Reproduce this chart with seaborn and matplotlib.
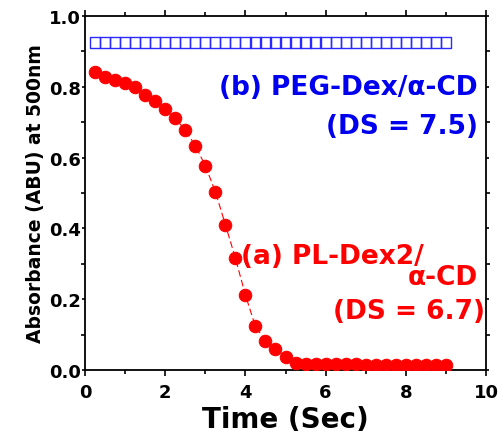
import numpy as np
import pandas as pd
import matplotlib
matplotlib.use("Agg")
import matplotlib.pyplot as plt
import seaborn as sns
from matplotlib.ticker import MultipleLocator

time_sec = [0.25, 0.5, 0.75, 1.0, 1.25, 1.5, 1.75, 2.0, 2.25, 2.5,
            2.75, 3.0, 3.25, 3.5, 3.75, 4.0, 4.25, 4.5, 4.75, 5.0,
            5.25, 5.5, 5.75, 6.0, 6.25, 6.5, 6.75, 7.0, 7.25, 7.5,
            7.75, 8.0, 8.25, 8.5, 8.75, 9.0]
abs_a = [0.841, 0.829, 0.819, 0.810, 0.799, 0.778, 0.761, 0.737, 0.711, 0.678,
         0.634, 0.577, 0.504, 0.411, 0.316, 0.212, 0.123, 0.083, 0.059, 0.036,
         0.020, 0.018, 0.017, 0.017, 0.016, 0.016, 0.016, 0.015, 0.015, 0.015,
         0.014, 0.014, 0.014, 0.013, 0.013, 0.013]
abs_b = [0.925] * 36

xticks = [0, 2, 4, 6, 8, 10]
yticks = [0.0, 0.2, 0.4, 0.6, 0.8, 1.0]

sns.set_style("ticks")
plt.rcParams['font.family'] = ['DejaVu Sans']
plt.rcParams['font.weight'] = 'bold'
for k in ['text.color', 'axes.labelcolor', 'xtick.color', 'ytick.color',
          'axes.edgecolor']:
    plt.rcParams[k] = 'black'

df_a = pd.DataFrame({"t": time_sec, "A": abs_a})
df_b = pd.DataFrame({"t": time_sec, "A": abs_b})

fig = plt.figure(figsize=(5.04, 4.39), dpi=100)
ax = fig.add_axes([85/504, 1 - 371/439, (486-85)/504, (371-17)/439])

sns.lineplot(data=df_a, x="t", y="A", ax=ax, color="red", linestyle=(0, (6, 3)),
             linewidth=0.8, marker="o", markersize=9, markeredgecolor="red",
             markerfacecolor="red", zorder=3)
sns.scatterplot(data=df_b, x="t", y="A", ax=ax, marker="s", s=54,
                facecolor="none", edgecolor="#2a2aff", linewidth=1.0, zorder=3)

ax.set_xlim(0, 10)
ax.set_ylim(0, 1.0)
ax.set_xticks(xticks)
ax.set_yticks(yticks)
ax.set_xticklabels([str(v) for v in xticks], fontsize=13, fontweight='bold')
ax.set_yticklabels([f"{v:.1f}" for v in yticks], fontsize=13, fontweight='bold')
ax.xaxis.set_minor_locator(MultipleLocator(1))
ax.yaxis.set_minor_locator(MultipleLocator(0.1))
ax.tick_params(which='both', direction='out', width=1.2, color='black')
ax.tick_params(axis='x', which='major', length=4, pad=5)
ax.tick_params(axis='y', which='major', length=2, pad=1)
ax.tick_params(which='minor', length=3)
ax.tick_params(which='both', top=True, right=True, labeltop=False, labelright=False)
for s in ax.spines.values():
    s.set_linewidth(1.3)
    s.set_color('black')

ax.set_xlabel("Time (Sec)", fontsize=20, fontweight='bold', labelpad=3, color='black')
ax.set_ylabel("Absorbance (ABU) at 500nm", fontsize=13.5, fontweight='bold',
              labelpad=3, color='black')

blue = '#0000ee'
ax.text(0.98, 0.80, "(b) PEG-Dex/\u03b1-CD", transform=ax.transAxes, ha='right',
        va='center', color=blue, fontsize=19, fontweight='bold')
ax.text(0.98, 0.69, "(DS = 7.5)", transform=ax.transAxes, ha='right',
        va='center', color=blue, fontsize=19, fontweight='bold')
ax.text(0.39, 0.322, "(a) PL-Dex2/", transform=ax.transAxes, ha='left',
        va='center', color='red', fontsize=19, fontweight='bold')
ax.text(0.98, 0.263, "\u03b1-CD", transform=ax.transAxes, ha='right',
        va='center', color='red', fontsize=19, fontweight='bold')
ax.text(0.998, 0.167, "(DS = 6.7)", transform=ax.transAxes, ha='right',
        va='center', color='red', fontsize=19, fontweight='bold')

fig.savefig("out.png", dpi=100)
